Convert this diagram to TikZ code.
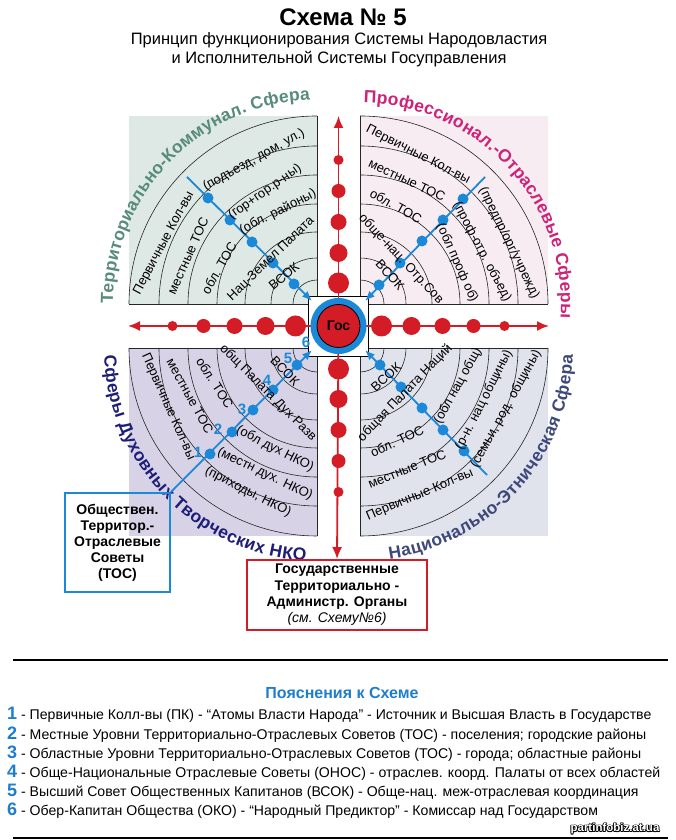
\documentclass[tikz,border=0pt]{standalone}
\usepackage{fontspec}
\setmainfont{Liberation Sans}
\usetikzlibrary{arrows.meta,decorations.text}

\definecolor{axred}{RGB}{212,28,38}
\definecolor{lnblue}{RGB}{28,136,216}
\definecolor{qtl}{RGB}{222,232,228}
\definecolor{qtr}{RGB}{247,236,241}
\definecolor{qbl}{RGB}{216,210,230}
\definecolor{qbr}{RGB}{224,226,236}
\definecolor{ttl}{RGB}{88,140,122}
\definecolor{ttr}{RGB}{205,35,120}
\definecolor{tbl}{RGB}{30,30,120}
\definecolor{tbr}{RGB}{62,72,122}
\definecolor{legblue}{RGB}{30,125,205}

\newcommand{\legnum}[1]{{\color{legblue}\fontsize{18}{18}\selectfont\bfseries #1}}

\tikzset{
 lbl/.style={font=\fontsize{13}{13}\selectfont, inner sep=0pt},
 reddot/.style={circle, fill=axred, inner sep=0pt},
 bluedot/.style={circle, fill=lnblue, minimum size=11pt, inner sep=0pt},
 arcline/.style={line width=0.6pt, black!85},
 axis/.style={axred, line width=1.8pt, -{Latex[length=12pt,width=10pt]}},
 diag/.style={lnblue, line width=1.8pt, -{Latex[length=10pt,width=8pt]}},
 num/.style={font=\fontsize{15}{15}\selectfont\bfseries, text=lnblue, inner sep=0pt},
 legtxt/.style={font=\fontsize{14.1}{14.1}\selectfont, inner sep=0pt, anchor=west},
 wm/.style={font=\fontsize{11.5}{11.5}\selectfont\bfseries, inner sep=0pt},
 qtitle/.style={decorate, decoration={text along path, text align=fit to path, text color=#1}},
}

\begin{document}
\begin{tikzpicture}[x=1pt,y=1pt]
\useasboundingbox (0,0) rectangle (676,840);
\fill[white] (0,0) rectangle (676,840);

% title
\node[font=\fontsize{24}{24}\selectfont\bfseries] (title) at (343,823) {Схема № 5};
\node[font=\fontsize{16.5}{19}\selectfont, align=center] (sub) at (339,790.5) {Принцип функционирования Системы Народовластия\\и Исполнительной Системы Госуправления};

% quadrant backgrounds
\fill[qtl] (129,536) rectangle (317,724);
\fill[qtr] (360,536) rectangle (548,724);
\fill[qbl] (129,304) rectangle (317,492);
\fill[qbr] (360,304) rectangle (548,492);

% arcs
\foreach \r in {188,158,129,100,72,46,24} {
  \draw[arcline] (317,536) ++(90:\r) arc[start angle=90, end angle=180, radius=\r];
  \draw[arcline] (360,536) ++(0:\r) arc[start angle=0, end angle=90, radius=\r];
  \draw[arcline] (317,492) ++(180:\r) arc[start angle=180, end angle=270, radius=\r];
  \draw[arcline] (360,492) ++(270:\r) arc[start angle=270, end angle=360, radius=\r];
}
\draw[arcline] (129,536) -- (317,536) -- (317,724);
\draw[arcline] (360,724) -- (360,536) -- (548,536);
\draw[arcline] (129,492) -- (317,492) -- (317,304);
\draw[arcline] (360,304) -- (360,492) -- (548,492);

% quadrant titles
\path[qtitle=ttl, decoration={text={|\fontsize{17.5}{17.5}\selectfont\bfseries|Территориально-Коммунал. Сфера}}]
  (317,536) ++(180:204) arc[start angle=180, end angle=92, radius=204];
\path[qtitle=ttr, decoration={text={|\fontsize{17.5}{17.5}\selectfont\bfseries|Профессионал.-Отраслевые Сферы}}]
  (360,536) ++(89:201) arc[start angle=89, end angle=-4, radius=201];
\path[qtitle=tbl, decoration={text={|\fontsize{17.5}{17.5}\selectfont\bfseries|Сферы Духовных Творческих НКО}}]
  (317,492) ++(182:213) arc[start angle=182, end angle=267, radius=213];
\path[qtitle=tbr, decoration={text={|\fontsize{17.5}{17.5}\selectfont\bfseries|Национально-Этническая Сфера}}]
  (360,492) ++(278:213) arc[start angle=278, end angle=358, radius=213];

% centre square
\coordinate (C) at (338.5,514);
\node[draw=black, fill=white, minimum size=60pt, inner sep=0pt, line width=0.8pt] (gsq) at (C) {};

% boxes
\node[draw=lnblue, line width=2pt, minimum width=105pt, minimum height=99pt, align=center,
      font=\fontsize{14}{16}\selectfont\bfseries, inner sep=0pt] (bluebox) at (117.5,297.5)
      {Обществен.\\Территор.-\\Отраслевые\\Советы\\(ТОС)};
\node[draw=axred, line width=2pt, minimum width=180pt, minimum height=70pt, align=center,
      font=\fontsize{14}{16.3}\selectfont\bfseries, inner sep=0pt] (redbox) at (337,245)
      {Государственные\\Территориально -\\Администр. Органы\\{\mdseries\itshape (см. Схему№6)}};

% red axes
\coordinate (tipL) at (128,514);
\coordinate (tipR) at (549,514);
\coordinate (tipT) at (338.5,724);
\draw[axis] (C) -- (tipL);
\draw[axis] (C) -- (tipR);
\draw[axis] (C) -- (tipT);
\draw[axis] (C) -- (redbox.north);
\foreach \d/\s in {43/21,73/18,104/16,135/14,166/10} {
  \node[reddot, minimum size=\s] (dl\d) at (338.5-\d,514) {};
  \node[reddot, minimum size=\s] (dr\d) at (338.5+\d,514) {};
  \node[reddot, minimum size=\s] (dt\d) at (338.5,514+\d) {};
  \node[reddot, minimum size=\s] (db\d) at (338.5,514-\d) {};
}

% Gos
\node[circle, fill=lnblue, minimum size=56pt, inner sep=0pt] (ring) at (C) {};
\node[circle, fill=axred, draw=black, line width=0.8pt, minimum size=43pt, inner sep=0pt,
      font=\fontsize{14}{14}\selectfont\bfseries] (gos) at (C) {Гос};

% blue diagonals
\coordinate (tlS) at (187,663);  \coordinate (tlE) at (312,539);
\coordinate (trS) at (485,663);  \coordinate (trE) at (365,539);
\coordinate (brS) at (487,365);  \coordinate (brE) at (365,490);
\coordinate (blE) at (312,490);
\draw[diag] (tlS) -- (tlE);
\draw[diag] (trS) -- (trE);
\draw[diag] (brS) -- (brE);
\draw[diag] (bluebox.north east) -- (blE);
\foreach \p [count=\i] in {(208,642),(230,620),(252,598),(273,577),(294,556)} \node[bluedot] (tld\i) at \p {};
\foreach \p [count=\i] in {(463,641),(443,620),(422,599),(400,577),(379,555)} \node[bluedot] (trd\i) at \p {};
\foreach \p [count=\i] in {(210,386),(232,408),(253,430),(273,450),(297,475)} \node[bluedot] (bld\i) at \p {};
\foreach \p [count=\i] in {(464,389),(443,410),(422,432),(401,453),(380,475)} \node[bluedot] (brd\i) at \p {};

% numbers
\node[num] (n1) at (198,388) {1};
\node[num] (n2) at (218,411) {2};
\node[num] (n3) at (242,431) {3};
\node[num] (n4) at (267,460) {4};
\node[num] (n5) at (288,482) {5};
\node[num] (n6) at (306,498) {6};

% TL labels
\node[lbl, rotate=62] (tl1) at (164,597) {Первичные Кол-вы};
\node[lbl, rotate=29] (tl2) at (254,680) {(подъезд, дом, ул.)};
\node[lbl, rotate=66] (tl3) at (188,584) {местные ТОС};
\node[lbl, rotate=35] (tl4) at (265,648) {(гор+гор.р-ны)};
\node[lbl, rotate=60] (tl5) at (219,572) {обл. ТОС};
\node[lbl, rotate=27] (tl6) at (278,628) {(обл. районы)};
\node[lbl, rotate=44] (tl7) at (271,581) {Нац-Земел Палата};
\node[lbl, rotate=40] (tl8) at (284,564) {ВСОК};

% TR labels
\node[lbl, rotate=-27] (tr1) at (418,685) {Первичные Кол-вы};
\node[lbl, rotate=-25] (tr2) at (407,660) {местные ТОС};
\node[lbl, rotate=-29] (tr3) at (396,634) {обл. ТОС};
\node[lbl, rotate=-47] (tr4) at (401,581) {обще-нац. Отр.Сов};
\node[lbl, rotate=-48] (tr5) at (390,565) {ВСОК};
\node[lbl, rotate=-64] (tr6) at (509,597) {(предпр/орг/учрежд)};
\node[lbl, rotate=-62] (tr7) at (482,588) {(проф-отр. объед)};
\node[lbl, rotate=-66] (tr8) at (457,577) {(обл проф об)};

% BL labels
\node[lbl, rotate=-66] (bl1) at (168,433) {Первичные Кол-вы};
\node[lbl, rotate=-61] (bl2) at (190,444) {местные ТОС};
\node[lbl, rotate=-57] (bl3) at (215,457) {обл. ТОС};
\node[lbl, rotate=-45] (bl4) at (268,447) {общ Палата Дух Разв};
\node[lbl, rotate=-46] (bl5) at (285,469) {ВСОК};
\node[lbl, rotate=-27] (bl6) at (275,391) {(обл дух НКО)};
\node[lbl, rotate=-26] (bl7) at (265,366) {(местн дух. НКО)};
\node[lbl, rotate=-27] (bl8) at (248,348) {(приходы, НКО)};

% BR labels
\node[lbl, rotate=42] (br1) at (386,463) {ВСОК};
\node[lbl, rotate=46] (br2) at (405,447) {общая Палата Наций};
\node[lbl, rotate=25] (br3) at (397,399) {обл. ТОС};
\node[lbl, rotate=22] (br4) at (407,371) {местные ТОС};
\node[lbl, rotate=23] (br5) at (420,345) {Первичные Кол-вы};
\node[lbl, rotate=61] (br6) at (458,454) {(обл нац общ)};
\node[lbl, rotate=63] (br7) at (484,440) {(р-н. нац общины)};
\node[lbl, rotate=61] (br8) at (506,431) {(семьи, род. общины)};

% legend
\draw[line width=2.5pt] (13,180) -- (668,180);
\draw[line width=2.5pt] (13,2) -- (668,2);
\node[font=\fontsize{16}{16}\selectfont\bfseries, text=legblue] (leghead) at (342,147) {Пояснения к Схеме};
\node[legtxt] (lg1) at (7,125) {\legnum{1} - Первичные Колл-вы (ПК) - “Атомы Власти Народа” - Источник и Высшая Власть в Государстве};
\node[legtxt] (lg2) at (7,105) {\legnum{2} - Местные Уровни Территориально-Отраслевых Советов (ТОС) - поселения; городские районы};
\node[legtxt] (lg3) at (7,86) {\legnum{3} - Областные Уровни Территориально-Отраслевых Советов (ТОС) - города; областные районы};
\node[legtxt] (lg4) at (7,67) {\legnum{4} - Обще-Национальные Отраслевые Советы (ОНОС) - отраслев. коорд. Палаты от всех областей};
\node[legtxt] (lg5) at (7,48) {\legnum{5} - Высший Совет Общественных Капитанов (ВСОК) - Обще-нац. меж-отраслевая координация};
\node[legtxt] (lg6) at (7,29) {\legnum{6} - Обер-Капитан Общества (ОКО) - “Народный Предиктор” - Комиссар над Государством};

% watermark
\foreach \dx/\dy in {-0.8/0,0.8/0,0/-0.8,0/0.8,-0.6/-0.6,0.6/0.6,-0.6/0.6,0.6/-0.6}
  \node[wm, text=black] at (615+\dx,11+\dy) {partinfobiz.at.ua};
\node[wm, text=white] (wmk) at (615,11) {partinfobiz.at.ua};
\end{tikzpicture}
\end{document}
